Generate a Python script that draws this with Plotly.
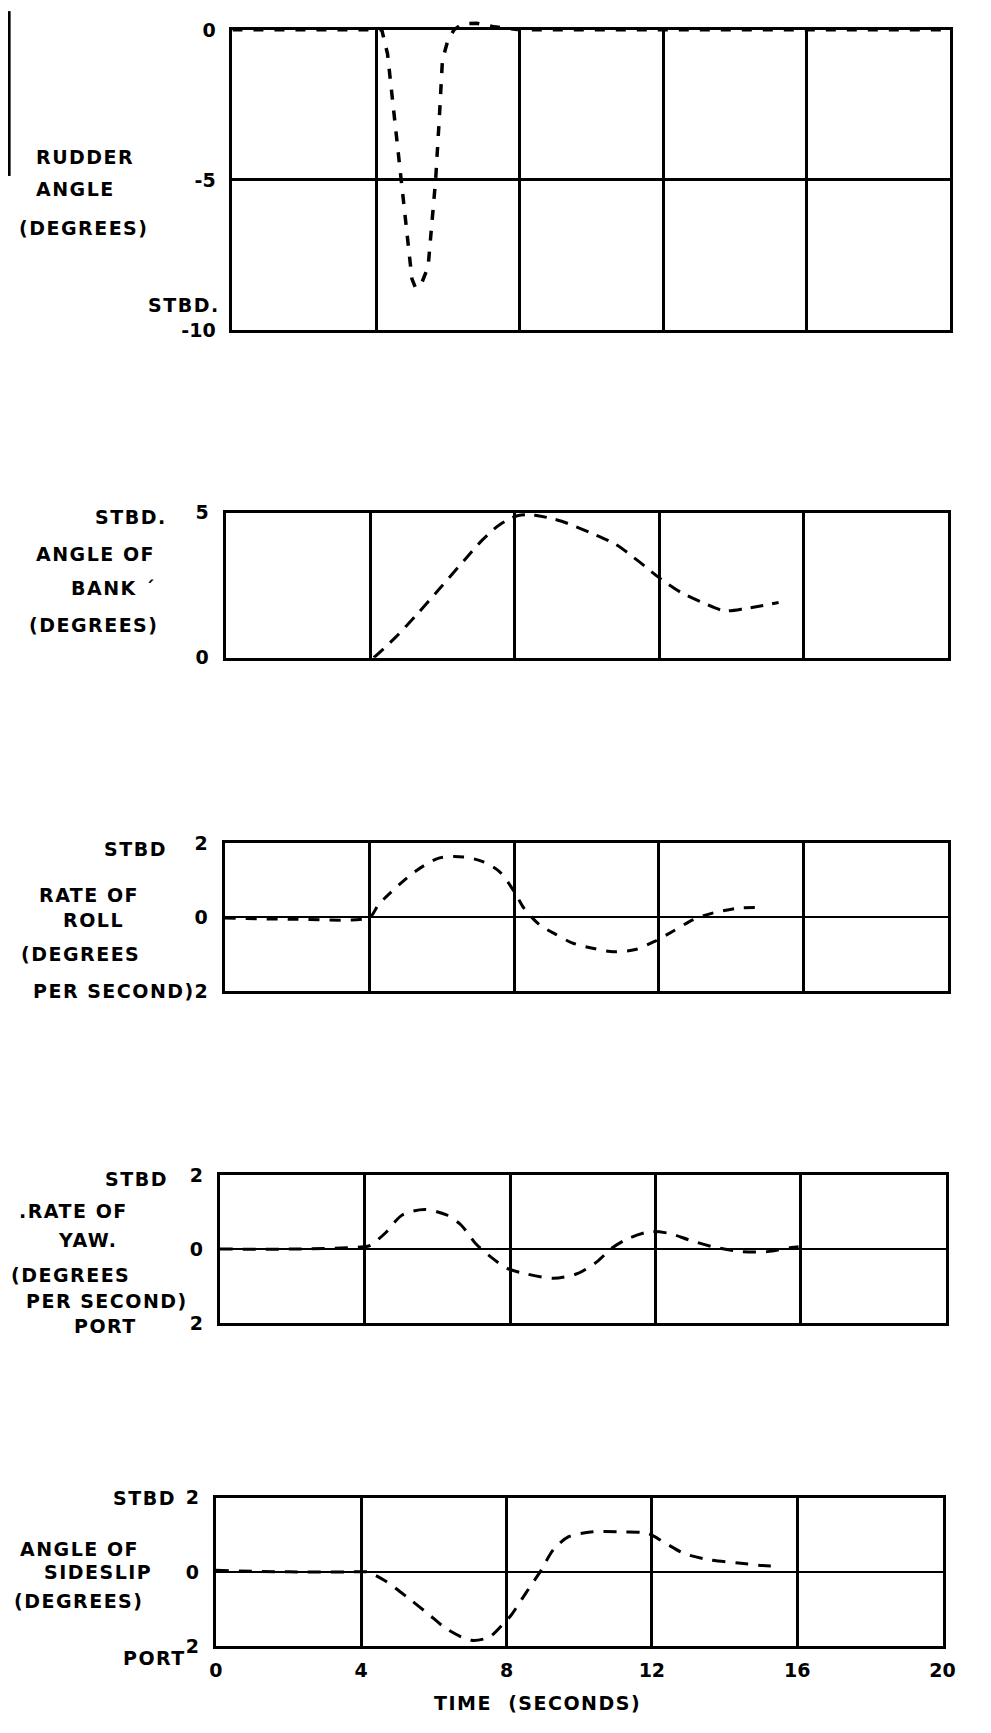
import plotly.graph_objects as go

# ---------------- data ----------------
time_ticks = [0, 4, 8, 12, 16, 20]
time_tick_labels = ["0", "4", "8", "12", "16", "20"]

rudder_t = [0, 2, 4, 4.16, 4.32, 4.5, 4.70, 4.86, 5.0, 5.10, 5.25, 5.45, 5.56, 5.66, 5.76, 5.85,
            6.0, 6.17, 6.4, 6.8, 7.3, 8, 12, 16, 20]
rudder_v = [0, 0, 0, 0, -0.8, -2.8, -5.0, -7.0, -8.3, -8.6, -8.5, -7.9, -6.5, -5.0, -3.0, -1.0,
            -0.35, 0, 0.2, 0.22, 0.1, 0, 0, 0, 0]

bank_t = [4.1, 4.7, 5.3, 5.9, 6.6, 7.1, 7.6, 8.1, 8.6, 9.3, 10.1, 10.8, 11.45, 12.0, 12.6,
          13.2, 13.8, 14.4, 15.3]
bank_v = [0, 0.7, 1.5, 2.35, 3.35, 4.05, 4.6, 4.9, 4.9, 4.7, 4.3, 3.9, 3.3, 2.75, 2.25,
          1.9, 1.62, 1.7, 1.9]

roll_t = [0, 2, 4, 4.25, 4.72, 5.25, 5.92, 6.6, 7.15, 7.6, 8.0, 8.27, 8.7, 9.15, 9.6, 10.1,
          10.75, 11.35, 11.9, 12.4, 12.95, 13.5, 14.2, 14.85]
roll_v = [-0.02, -0.05, 0, 0.34, 0.79, 1.23, 1.6, 1.63, 1.5, 1.23, 0.7, 0.25, -0.2, -0.46,
          -0.69, -0.82, -0.93, -0.87, -0.64, -0.37, -0.06, 0.12, 0.25, 0.27]

yaw_t = [0, 2, 3.97, 4.15, 4.55, 5.03, 5.64, 6.25, 6.65, 7.05, 7.45, 7.92, 8.4, 9.2, 9.87,
         10.4, 10.8, 11.27, 11.87, 12.4, 12.95, 13.6, 14.4, 15.1, 15.75, 15.95]
yaw_v = [0, 0, 0.06, 0.1, 0.42, 0.92, 1.07, 0.92, 0.65, 0.15, -0.2, -0.52, -0.66, -0.79, -0.66,
         -0.34, 0.02, 0.29, 0.47, 0.42, 0.24, 0.06, -0.07, -0.07, 0.04, 0.06]

slip_t = [0, 2, 4, 4.17, 4.67, 5.34, 5.85, 6.35, 7.03, 7.53, 7.95, 8.12, 8.54, 8.95, 9.29,
          9.71, 10.38, 11.21, 11.88, 12.38, 12.88, 13.55, 14.38, 15.05, 15.47]
slip_v = [0.04, 0, 0, 0, -0.25, -0.74, -1.14, -1.54, -1.85, -1.76, -1.36, -1.18, -0.56, 0.04,
          0.6, 0.95, 1.08, 1.08, 1.04, 0.77, 0.5, 0.33, 0.24, 0.17, 0.15]

rudder_ticks = [0, -5, -10]
rudder_tick_labels = ["0", "-5", "-10"]
bank_ticks = [0, 5]
bank_tick_labels = ["0", "5"]
rate_ticks = [-2, 0, 2]
rate_tick_labels = ["2", "0", "2"]

# ---------------- layout helpers ----------------
OFF = 8                      # default page margin of the html body
W, H = 991 - 2 * OFF, 1733 - 2 * OFF
def fx(p):
    return (p - OFF) / W
def fy(p):
    return 1 - (p - OFF) / H

FONT = "DejaVu Sans"
lab_font = dict(family=FONT, size=19, color="black", weight="bold")
tick_font = dict(family=FONT, size=19, color="black", weight="bold")

# panel boxes in screen pixels: (left, right, top, bottom)
boxes = [(230, 963, 19, 323), (223, 961, 508, 655), (222, 961, 843, 993),
         (217, 958, 1179, 1329), (213, 955, 1506, 1656)]

yconf = [
    dict(range=[-10, 0], tickvals=rudder_ticks, ticktext=rudder_tick_labels, gridwidth=3),
    dict(range=[0, 5], tickvals=bank_ticks, ticktext=bank_tick_labels, gridwidth=3),
    dict(range=[-2, 2], tickvals=rate_ticks, ticktext=rate_tick_labels, gridwidth=2),
    dict(range=[-2, 2], tickvals=rate_ticks, ticktext=rate_tick_labels, gridwidth=2),
    dict(range=[-2, 2], tickvals=rate_ticks, ticktext=rate_tick_labels, gridwidth=2),
]

fig = go.Figure()
layout = {}
for i, (l, r, t, b) in enumerate(boxes):
    n = "" if i == 0 else str(i + 1)
    layout["xaxis" + n] = dict(
        domain=[fx(l), fx(r)], range=[0, 20], anchor="y" + n,
        tickvals=time_ticks, ticktext=time_tick_labels,
        showticklabels=(i == 4), ticks="", showgrid=True, gridcolor="black", gridwidth=3,
        showline=True, mirror=True, linecolor="black", linewidth=3, zeroline=False,
        tickfont=tick_font, ticklabelstandoff=5, fixedrange=True,
    )
    yc = yconf[i]
    layout["yaxis" + n] = dict(
        domain=[fy(b), fy(t)], range=yc["range"], anchor="x" + n,
        tickvals=yc["tickvals"], ticktext=yc["ticktext"], ticks="",
        showgrid=True, gridcolor="black", gridwidth=yc["gridwidth"],
        showline=True, mirror=True, linecolor="black", linewidth=3, zeroline=False,
        tickfont=tick_font, ticklabelstandoff=10, fixedrange=True,
    )

# hidden companion axes for the rudder panel so the overshoot above zero is not clipped
l, r, t, b = boxes[0]
px_per_unit = (b - t) / 10.0
top_extra = 10
layout["xaxis6"] = dict(domain=[fx(l), fx(r)], range=[0, 20], anchor="y6",
                        visible=False, fixedrange=True)
layout["yaxis6"] = dict(domain=[fy(b), fy(t - top_extra)], range=[-10, top_extra / px_per_unit],
                        anchor="x6", visible=False, fixedrange=True)

# invisible copy on the visible rudder axes so that panel's frame and grid are drawn
fig.add_trace(go.Scatter(x=rudder_t, y=rudder_v, xaxis="x", yaxis="y", mode="lines",
                         line=dict(color="rgba(0,0,0,0)", width=0), hoverinfo="skip",
                         showlegend=False))

series = [
    (rudder_t, rudder_v, "x6", "y6", "linear", "10px,11px", 3.5),
    (bank_t, bank_v, "x2", "y2", "spline", "13px,9px", 3),
    (roll_t, roll_v, "x3", "y3", "spline", "11px,10px", 3),
    (yaw_t, yaw_v, "x4", "y4", "spline", "13px,10px", 3),
    (slip_t, slip_v, "x5", "y5", "spline", "13px,10px", 3),
]
for tt, vv, xa, ya, shape, dash, wdt in series:
    line = dict(color="black", width=wdt, dash=dash, shape=shape)
    if shape == "spline":
        line["smoothing"] = 0.8
    fig.add_trace(go.Scatter(x=tt, y=vv, xaxis=xa, yaxis=ya, mode="lines", line=line,
                             hoverinfo="skip", showlegend=False))

# ---------------- labels ----------------
def spaced(s, sp=1.5):
    return '<span style="letter-spacing:%spx">%s</span>' % (sp, s)

labels = [
    # (text, x, y, xanchor)
    ("RUDDER", 27, 148, "left"),
    ("ANGLE", 27, 180, "left"),
    ("(DEGREES)", 10, 220, "left"),
    ("STBD.", 219, 298, "right"),
    ("STBD.", 165, 512, "right"),
    ("ANGLE OF", 27, 550, "left"),
    ("BANK ´", 63, 584, "left"),
    ("(DEGREES)", 20, 622, "left"),
    ("STBD", 165, 849, "right"),
    ("RATE OF", 30, 895, "left"),
    ("ROLL", 55, 921, "left"),
    ("(DEGREES", 12, 955, "left"),
    ("PER SECOND)", 24, 993, "left"),
    ("STBD", 166, 1183, "right"),
    (".RATE OF", 10, 1215, "left"),
    ("YAW.", 50, 1245, "left"),
    ("(DEGREES", 2, 1280, "left"),
    ("PER SECOND)", 17, 1307, "left"),
    ("PORT", 135, 1332, "right"),
    ("STBD", 174, 1506, "right"),
    ("ANGLE OF", 11, 1558, "left"),
    ("SIDESLIP", 36, 1581, "left"),
    ("(DEGREES)", 5, 1611, "left"),
    ("PORT", 185, 1668, "right"),
    ("TIME  (SECONDS)", 541, 1714, "center"),
]
annotations = []
for text, x, y, xa in labels:
    annotations.append(dict(
        text=spaced(text), x=fx(x), y=fy(y), xref="paper", yref="paper",
        xanchor=xa, yanchor="middle", showarrow=False, font=lab_font,
    ))

shapes = [dict(type="line", xref="paper", yref="paper", x0=fx(2), x1=fx(2), y0=fy(0), y1=fy(167),
               line=dict(color="black", width=3))]

fig.update_layout(
    width=W, height=H, margin=dict(l=0, r=0, t=0, b=0),
    paper_bgcolor="white", plot_bgcolor="rgba(0,0,0,0)", showlegend=False,
    annotations=annotations, shapes=shapes, **layout,
)

fig.write_html("out.html")
